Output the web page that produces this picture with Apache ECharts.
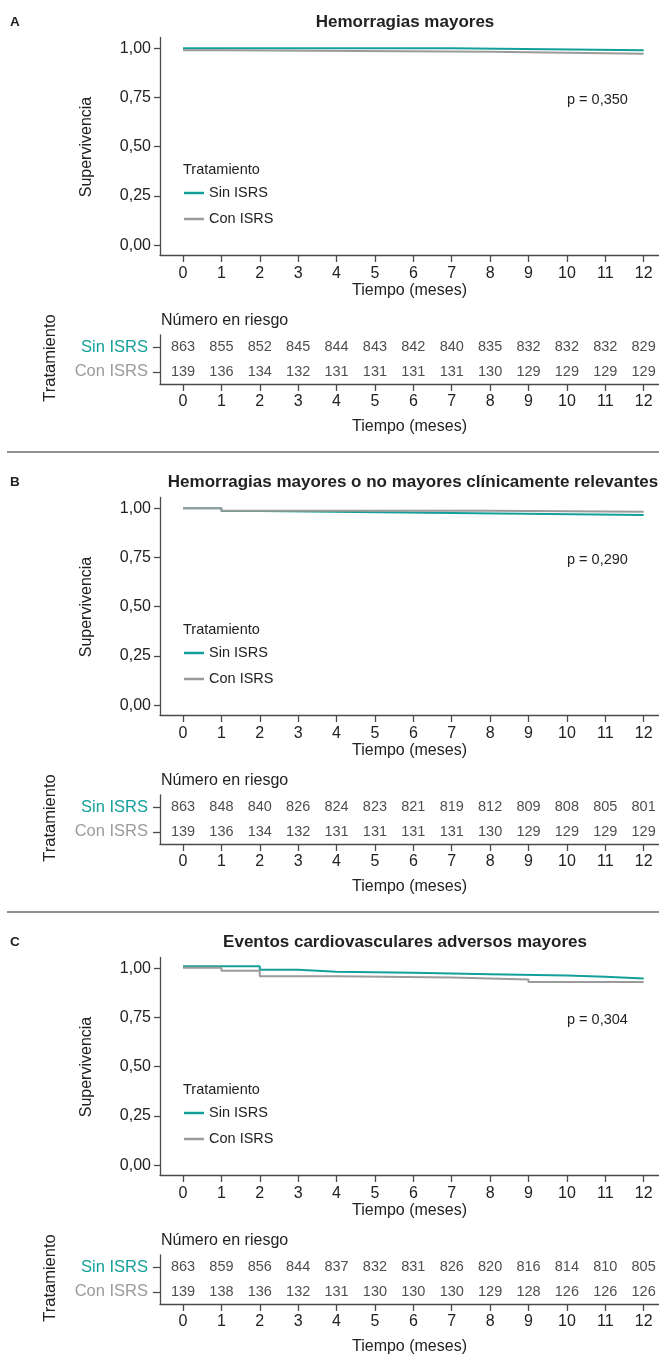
<!DOCTYPE html>
<html>
<head>
<meta charset="utf-8">
<script src="https://cdn.jsdelivr.net/npm/echarts@6/dist/echarts.min.js"></script>
<style>
  html, body { margin: 0; padding: 0; background: #fff; }
  #chart { width: 659px; height: 1354px; }
</style>
</head>
<body>
<div id="chart"></div>
<script>
// data
const months = [0, 1, 2, 3, 4, 5, 6, 7, 8, 9, 10, 11, 12];
const yTicks = [0, 0.25, 0.5, 0.75, 1];
const groups = ['Sin ISRS', 'Con ISRS'];
const panelLetters = ['A', 'B', 'C'];
const panelTitles = [
  'Hemorragias mayores',
  'Hemorragias mayores o no mayores clínicamente relevantes',
  'Eventos cardiovasculares adversos mayores'
];
const pValues = ['p = 0,350', 'p = 0,290', 'p = 0,304'];

// survival steps [month, value]
const kmSinA = [[0, 1.0], [7, 0.99], [12, 0.99]];
const kmConA = [[0, 0.99], [1, 0.982], [8, 0.972], [12, 0.972]];
const kmSinB = [[0, 1.0], [1, 0.986], [2, 0.976], [7, 0.966], [12, 0.966]];
const kmConB = [[0, 1.0], [1, 0.988], [8, 0.983], [12, 0.983]];
const kmSinC = [[0, 1.01], [2, 0.993], [3, 0.983], [4, 0.977], [6, 0.970], [8, 0.963], [10, 0.957], [11, 0.948], [12, 0.948]];
const kmConC = [[0, 1.003], [1, 0.988], [2, 0.960], [4, 0.953], [7, 0.943], [9, 0.930], [12, 0.930]];

// numbers at risk
const riskSinA = [863, 855, 852, 845, 844, 843, 842, 840, 835, 832, 832, 832, 829];
const riskConA = [139, 136, 134, 132, 131, 131, 131, 131, 130, 129, 129, 129, 129];
const riskSinB = [863, 848, 840, 826, 824, 823, 821, 819, 812, 809, 808, 805, 801];
const riskConB = [139, 136, 134, 132, 131, 131, 131, 131, 130, 129, 129, 129, 129];
const riskSinC = [863, 859, 856, 844, 837, 832, 831, 826, 820, 816, 814, 810, 805];
const riskConC = [139, 138, 136, 132, 131, 130, 130, 130, 129, 128, 126, 126, 126];

const kmSin = [kmSinA, kmSinB, kmSinC];
const kmCon = [kmConA, kmConB, kmConC];
const riskSin = [riskSinA, riskSinB, riskSinC];
const riskCon = [riskConA, riskConB, riskConC];

const FONT = "'Liberation Sans', Arial, Helvetica, sans-serif";
const TEAL = '#14a09a';
const GRAY = '#9b9b9b';
const AXIS = '#4a4a4a';
const TEXT = '#222';

const chart = echarts.init(document.getElementById('chart'));

const grids = [], xAxes = [], yAxes = [], series = [], legends = [], graphics = [];

function timeAxis(gridIndex, margin, nameGap) {
  return {
    type: 'value', gridIndex: gridIndex, min: -0.6, max: 12.4,
    axisLine: { show: true, onZero: false, lineStyle: { color: AXIS, width: 1.3 } },
    axisTick: { show: true, customValues: months, length: 7, lineStyle: { color: AXIS, width: 1.3 } },
    axisLabel: { customValues: months, fontSize: 16, color: TEXT, fontFamily: FONT, margin: margin },
    splitLine: { show: false },
    name: 'Tiempo (meses)', nameLocation: 'middle', nameGap: nameGap,
    nameTextStyle: { fontSize: 16, color: TEXT, fontFamily: FONT }
  };
}

const titleX = [405, 413, 405];

for (let p = 0; p < 3; p++) {
  const o = 460 * p;
  const gKm = 2 * p, gRisk = 2 * p + 1;

  grids.push({ left: 160, width: 499, top: 37.5 + o, height: 217.5, outerBoundsMode: 'none' });
  grids.push({ left: 160, width: 499, top: 335 + o, height: 49, outerBoundsMode: 'none' });

  xAxes.push(timeAxis(gKm, 11, 26));
  xAxes.push(timeAxis(gRisk, 10, 35));

  yAxes.push({
    type: 'value', gridIndex: gKm, min: -0.05, max: 1.055,
    axisLine: { show: true, onZero: false, lineStyle: { color: AXIS, width: 1.3 } },
    axisTick: { show: true, customValues: yTicks, length: 6, lineStyle: { color: AXIS, width: 1.3 } },
    axisLabel: {
      customValues: yTicks, fontSize: 16, color: TEXT, fontFamily: FONT, margin: 9,
      formatter: v => v.toFixed(2).replace('.', ',')
    },
    splitLine: { show: false }
  });
  yAxes.push({
    type: 'category', gridIndex: gRisk, data: ['Con ISRS', 'Sin ISRS'],
    axisLine: { show: true, onZero: false, lineStyle: { color: AXIS, width: 1.3 } },
    axisTick: { show: true, alignWithLabel: true, length: 7, lineStyle: { color: AXIS, width: 1.3 } },
    axisLabel: {
      fontSize: 16.5, fontFamily: FONT, margin: 12,
      color: v => (v === 'Sin ISRS' ? TEAL : GRAY)
    },
    splitLine: { show: false }
  });

  series.push({
    name: groups[0], type: 'line', step: 'end', xAxisIndex: gKm, yAxisIndex: gKm,
    data: kmSin[p], showSymbol: false, symbol: 'none',
    lineStyle: { color: TEAL, width: 2 }, itemStyle: { color: TEAL }, silent: true
  });
  series.push({
    name: groups[1], type: 'line', step: 'end', xAxisIndex: gKm, yAxisIndex: gKm,
    data: kmCon[p], showSymbol: false, symbol: 'none',
    lineStyle: { color: GRAY, width: 2 }, itemStyle: { color: GRAY }, silent: true
  });

  [[groups[0], riskSin[p]], [groups[1], riskCon[p]]].forEach(([g, counts]) => {
    series.push({
      type: 'scatter', xAxisIndex: gRisk, yAxisIndex: gRisk, silent: true,
      symbolSize: 0,
      data: months.map((m, i) => [m, g, counts[i]]),
      label: {
        show: true, position: 'inside', formatter: d => d.value[2],
        fontSize: 14.5, color: TEXT, fontFamily: FONT
      }
    });
  });

  legends.push({
    data: groups, orient: 'vertical', left: 184, top: 185.5 + o,
    icon: 'rect', itemWidth: 20, itemHeight: 2.5, itemGap: 11, padding: 0,
    selectedMode: false,
    textStyle: { fontSize: 14.5, color: TEXT, fontFamily: FONT }
  });

  const txt = (text, x, y, size, opts) => Object.assign({
    type: 'text', x: x, y: y, silent: true,
    style: Object.assign({
      text: text, fontSize: size, fontFamily: FONT, fill: TEXT,
      align: 'left', verticalAlign: 'middle'
    }, (opts && opts.style) || {})
  }, (opts && opts.el) || {});

  graphics.push(txt(panelLetters[p], 10, 22 + o, 13.5, { style: { fontWeight: 'bold' } }));
  graphics.push(txt(panelTitles[p], titleX[p], 22 + o, 17, { style: { fontWeight: 'bold', align: 'center' } }));
  graphics.push(txt(pValues[p], 567, 100 + o, 14.5));
  graphics.push(txt('Tratamiento', 183, 170 + o, 14.5));
  graphics.push(txt('Supervivencia', 87, 147 + o, 16, { style: { align: 'center' }, el: { rotation: Math.PI / 2 } }));
  graphics.push(txt('Tratamiento', 50, 358 + o, 16.5, { style: { align: 'center' }, el: { rotation: Math.PI / 2 } }));
  graphics.push(txt('Número en riesgo', 161, 321 + o, 16));

  if (p > 0) {
    graphics.push({
      type: 'line', silent: true,
      shape: { x1: 7, y1: o - 8, x2: 659, y2: o - 8 },
      style: { stroke: '#222', lineWidth: 1 }
    });
  }
}

chart.setOption({
  animation: false,
  backgroundColor: '#fff',
  textStyle: { fontFamily: FONT },
  grid: grids,
  xAxis: xAxes,
  yAxis: yAxes,
  legend: legends,
  series: series,
  graphic: graphics
});
</script>
</body>
</html>
